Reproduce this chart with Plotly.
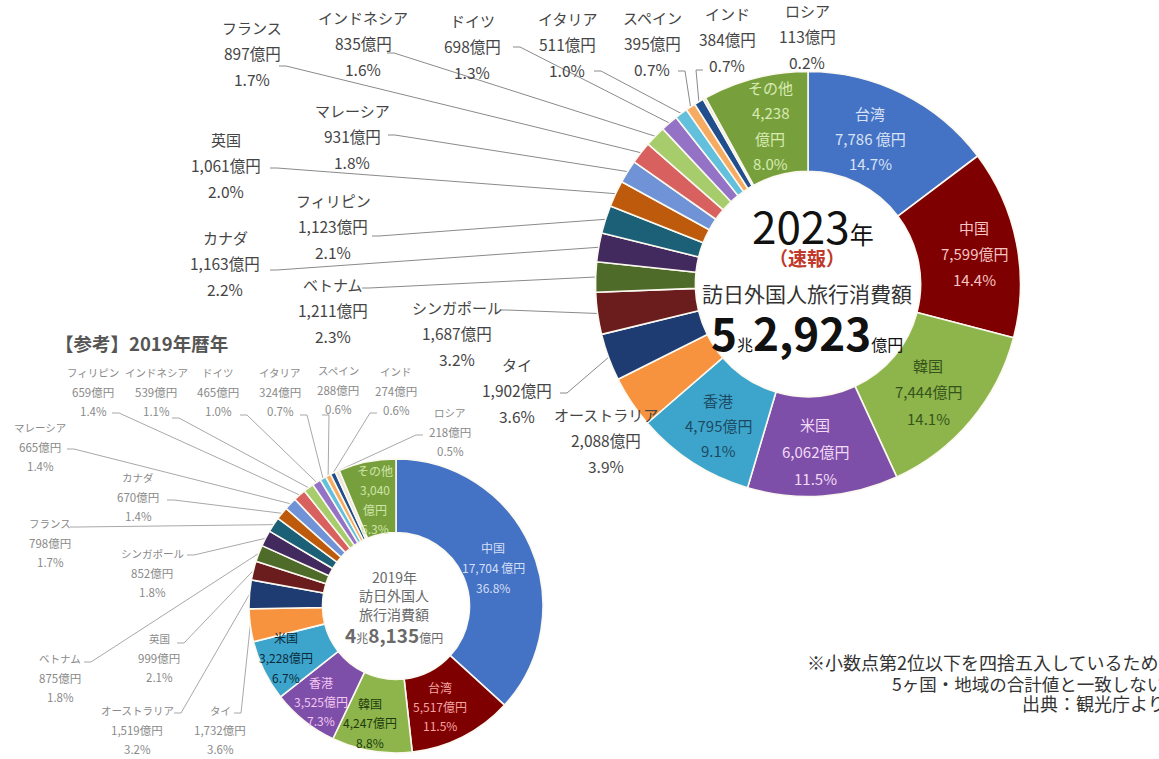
import math
import plotly.graph_objects as go

W, H = 1159, 759

# ---------------- data ----------------
cat23 = ["台湾", "中国", "韓国", "米国", "香港", "オーストラリア", "タイ", "シンガポール",
         "ベトナム", "カナダ", "フィリピン", "英国", "マレーシア", "フランス", "インドネシア",
         "ドイツ", "イタリア", "スペイン", "インド", "ロシア", "その他"]
val23 = [7786, 7599, 7444, 6062, 4795, 2088, 1902, 1687, 1211, 1163, 1123, 1061, 931, 897,
         835, 698, 511, 395, 384, 113, 4238]
pct23 = ["14.7%", "14.4%", "14.1%", "11.5%", "9.1%", "3.9%", "3.6%", "3.2%", "2.3%", "2.2%",
         "2.1%", "2.0%", "1.8%", "1.7%", "1.6%", "1.3%", "1.0%", "0.7%", "0.7%", "0.2%", "8.0%"]

cat19 = ["中国", "台湾", "韓国", "香港", "米国", "タイ", "オーストラリア", "英国", "ベトナム",
         "シンガポール", "フランス", "カナダ", "マレーシア", "フィリピン", "インドネシア", "ドイツ",
         "イタリア", "スペイン", "インド", "ロシア", "その他"]
val19 = [17704, 5517, 4247, 3525, 3228, 1732, 1519, 999, 875, 852, 798, 670, 665, 659, 539,
         465, 324, 288, 274, 218, 3040]
pct19 = ["36.8%", "11.5%", "8.8%", "7.3%", "6.7%", "3.6%", "3.2%", "2.1%", "1.8%", "1.8%",
         "1.7%", "1.4%", "1.4%", "1.4%", "1.1%", "1.0%", "0.7%", "0.6%", "0.6%", "0.5%", "6.3%"]

total23_text = ("5", "2,923")
total19_text = ("4", "8,135")

# ---------------- styles / layout ----------------
palette = ["#4472C4", "#7F0000", "#8DB54C", "#7E4FA8", "#3DA5CC", "#F7923F", "#1F3C72",
           "#6B1D1D", "#4F6B2A", "#42295E", "#1B6076", "#BE5A0C", "#6F93D6", "#D8615F",
           "#A6CC6C", "#9473C6", "#62C0DD", "#F6AB63", "#214E8C", "#EDE6D6", "#77A03C"]

FONT = "Noto Sans CJK JP"

# big donut geometry (pixels): cx, cy, radius, hole
C23 = (808, 284, 212.5, 0.53)
# small donut geometry
C19 = (396, 606, 147, 0.50)

# inside label positions (x, first-line y, spacing, color)
inside23 = {
    "台湾": (870, 113, 25, "#D9E3F6"),
    "中国": (974, 227, 26, "#F6C4C4"),
    "韓国": (928, 365, 26.5, "#36541A"),
    "米国": (815, 424, 27, "#F2DAF7"),
    "香港": (718, 400, 25, "#1C4A63"),
    "その他": (770, 87, 25.5, "#D7EBB3"),
}
inside19 = {
    "中国": (493, 547, 20, "#D3DEF5"),
    "台湾": (440, 687, 19, "#F6A5A5"),
    "韓国": (370, 703, 19.5, "#1F3A0C"),
    "香港": (321, 682, 19, "#F3C6F3"),
    "米国": (286, 637, 20, "#0C2B3B"),
    "その他": (375, 470, 19.5, "#CFE4A8"),
}
# outside labels: (x center, first-line y, anchor x, anchor y or None)
outside23 = {
    "オーストラリア": (606, 414, None, None),
    "タイ": (517, 364, 560, 393),
    "シンガポール": (457, 307, 500, 310),
    "ベトナム": (333, 284, 362, 288),
    "カナダ": (225, 237, 270, 270),
    "フィリピン": (333, 200, 372, 236),
    "英国": (226, 139, 270, 168),
    "マレーシア": (352, 110, 388, 135),
    "フランス": (252, 27, 279, 66),
    "インドネシア": (363, 17, 387, 53),
    "ドイツ": (472, 20, 513, 47),
    "イタリア": (567, 18, 594, 71),
    "スペイン": (652, 17, 678, 71),
    "インド": (727, 13, 703, 70),
    "ロシア": (807, 10, None, None),
}
outside19 = {
    "タイ": (220, 710, 234, 713),
    "オーストラリア": (137, 710, 174, 713),
    "英国": (159, 638, 177, 643),
    "ベトナム": (60, 658, 84, 662),
    "シンガポール": (152, 553, 187, 555),
    "フランス": (50, 523, 70, 527),
    "カナダ": (138, 477, 167, 500),
    "マレーシア": (40, 427, 67, 449),
    "フィリピン": (93, 372, 112, 413),
    "インドネシア": (156, 372, 172, 418),
    "ドイツ": (218, 372, 240, 415),
    "イタリア": (280, 372, 300, 415),
    "スペイン": (338, 370, 322, 415),
    "インド": (396, 371, 377, 413),
    "ロシア": (450, 412, 423, 435),
}


def domain(geom):
    cx, cy, r, _ = geom
    return dict(x=[(cx - r) / W, (cx + r) / W], y=[1 - (cy + r) / H, 1 - (cy - r) / H])


def slice_points(vals, geom):
    cx, cy, r, _ = geom
    tot = float(sum(vals))
    pts = []
    cum = 0.0
    for v in vals:
        th = 2 * math.pi * (cum + v / 2.0) / tot
        pts.append((cx + r * math.sin(th), cy - r * math.cos(th)))
        cum += v
    return pts


fig = go.Figure()

for cats, vals, geom in ((cat23, val23, C23), (cat19, val19, C19)):
    fig.add_trace(go.Pie(
        labels=cats, values=vals, sort=False, direction="clockwise", rotation=0,
        hole=geom[3], textinfo="none", hoverinfo="label+value", showlegend=False,
        marker=dict(colors=palette, line=dict(color="#FBF8F0", width=1.6)),
        domain=domain(geom),
    ))

annotations = []


def txt(x, y, text, size, color, bold=False, anchor="center"):
    annotations.append(dict(
        x=x, y=y, xref="x", yref="y", text=text, showarrow=False,
        xanchor=anchor, yanchor="middle",
        font=dict(family=FONT, size=size, color=color, weight="bold" if bold else "normal"),
    ))


def label_lines(cat, v, p, spaced=False, split=False):
    vs = f"{v:,}"
    if split:
        return [cat, vs, "億円", p]
    return [cat, vs + (" 億円" if spaced else "億円"), p]


def draw_labels(cats, vals, pcts, geom, inside, outside, in_size, name_size, out_size,
                out_color, out_gap, line_color, biggest):
    pts = slice_points(vals, geom)
    lx, ly = [], []
    for i, c in enumerate(cats):
        if c in inside:
            x, y0, gap, col = inside[c]
            lines = label_lines(c, vals[i], pcts[i], spaced=(c == biggest), split=(c == "その他"))
            for k, t in enumerate(lines):
                txt(x, y0 + k * gap, t, in_size, col)
        elif c in outside:
            x, y0, ax, ay = outside[c]
            for k, t in enumerate(label_lines(c, vals[i], pcts[i])):
                txt(x, y0 + k * out_gap, t, name_size if k == 0 else out_size, out_color)
            if ax is not None:
                px, py = pts[i]
                sgn = 1 if px > ax else -1
                lx += [ax, ax + 7 * sgn, px, None]
                ly += [ay, ay, py, None]
    fig.add_trace(go.Scatter(x=lx, y=ly, mode="lines", hoverinfo="skip", showlegend=False,
                             line=dict(color=line_color, width=1)))


draw_labels(cat23, val23, pct23, C23, inside23, outside23, 15, 15, 15.5, "#454545", 26,
            "#8A8A8A", "台湾")
draw_labels(cat19, val19, pct19, C19, inside19, outside19, 12, 10.5, 11.5, "#8A8A8A", 19.5,
            "#A8A8A8", "中国")

# centre texts 2023
txt(813, 225, "2023<span style='font-size:24px'>年</span>", 44, "#111111")
txt(807, 257, "（速報）", 19, "#C0392B", bold=True)
txt(807, 293, "訪日外国人旅行消費額", 21, "#333333")
txt(807, 332, "<b>%s</b><span style='font-size:16px'>兆</span><b>%s</b>"
    "<span style='font-size:16px'>億円</span>" % total23_text, 44, "#111111")

# centre texts 2019
txt(394, 577, "2019年", 14, "#6A6A6A")
txt(394, 595, "訪日外国人", 14, "#6A6A6A")
txt(394, 614, "旅行消費額", 14, "#6A6A6A")
txt(394, 634, "<b>%s</b><span style='font-size:12px'>兆</span><b>%s</b>"
    "<span style='font-size:12px'>億円</span>" % total19_text, 19, "#6A6A6A")

# title of reference chart
txt(141, 343, "【参考】2019年暦年", 18.5, "#555555", bold=True)

# footnote
txt(805, 662, "※小数点第2位以下を四捨五入しているため、", 18, "#333333", anchor="left")
txt(890, 683, "5ヶ国・地域の合計値と一致しない。", 17.5, "#333333", anchor="left")
txt(1020, 703, "出典：観光庁より", 18, "#333333", anchor="left")

fig.update_layout(
    width=W, height=H, margin=dict(l=0, r=0, t=0, b=0),
    paper_bgcolor="white", plot_bgcolor="rgba(0,0,0,0)",
    xaxis=dict(range=[0, W], visible=False, fixedrange=True, domain=[0, 1]),
    yaxis=dict(range=[H, 0], visible=False, fixedrange=True, domain=[0, 1]),
    annotations=annotations,
    font=dict(family=FONT),
)

fig.write_html("out.html", config={"displayModeBar": False},
               post_script="document.body.style.margin='0px';"
                           "document.body.style.overflow='hidden';")
